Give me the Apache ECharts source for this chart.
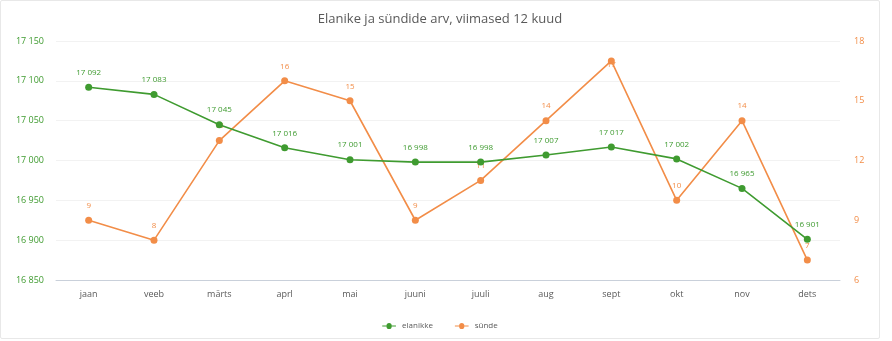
<!DOCTYPE html>
<html><head><meta charset="utf-8">
<script src="https://cdn.jsdelivr.net/npm/echarts@6/dist/echarts.min.js"></script>
<style>
html,body{margin:0;padding:0;background:#fff;}
#box{position:absolute;left:0;top:0;width:878px;height:337px;border:1px solid #e8e8e8;border-radius:2px;}
#c{position:absolute;left:0;top:0;width:878px;height:337px;}
</style></head>
<body><div id="box"><div id="c"></div></div>
<script>
const title = 'Elanike ja sündide arv, viimased 12 kuud';
const categories = ['jaan','veeb','märts','aprl','mai','juuni','juuli','aug','sept','okt','nov','dets'];
const residents = [17092,17083,17045,17016,17001,16998,16998,17007,17017,17002,16965,16901];
const births = [9,8,13,16,15,9,11,14,17,10,14,7];
const seriesNames = ['elanikke','sünde'];
const green = '#3f9b30', orange = '#f28d48';
const fmt = v => String(v).replace(/\B(?=(\d{3})+(?!\d))/g, ' ');
const font = 'Open Sans';
// the peak label sits partly under its point, as in the reference
const birthsData = births.map((v, i) => i === 8 ? {value: v, label: {show: true, position: 'bottom', distance: -4}} : v);
const chart = echarts.init(document.getElementById('c'));
chart.setOption({
  animation:false,
  textStyle:{fontFamily:font},
  title:{text:title,left:'center',top:7,textStyle:{fontFamily:font,fontSize:13,fontWeight:'normal',color:'#595959'}},
  legend:{bottom:3,left:'center',itemWidth:16,itemHeight:6,itemGap:22,icon:'path://M0,2.5L5,2.5A3,3 0 1 1 11,2.5L16,2.5L16,3.5L11,3.5A3,3 0 1 1 5,3.5L0,3.5Z',
    textStyle:{fontSize:8,color:'#595959',fontFamily:font},data:seriesNames},
  grid:{left:55,right:39,top:40,bottom:58,containLabel:false},
  xAxis:{type:'category',data:categories,boundaryGap:true,
    axisLine:{lineStyle:{color:'#c9d0da'}},axisTick:{show:false},
    axisLabel:{color:'#595959',fontSize:9,margin:10}},
  yAxis:[
    {type:'value',min:16850,max:17150,interval:50,
     axisLabel:{color:green,fontSize:9,formatter:fmt,margin:12},
     splitLine:{lineStyle:{color:'#f2f2f2'}},axisLine:{show:false},axisTick:{show:false}},
    {type:'value',min:6,max:18,interval:3,
     axisLabel:{color:orange,fontSize:9,margin:14},
     splitLine:{show:false},axisLine:{show:false},axisTick:{show:false}}
  ],
  series:[
    {name:seriesNames[0],type:'line',yAxisIndex:0,data:residents,symbol:'circle',symbolSize:7,
     itemStyle:{color:green},lineStyle:{color:green,width:1.6},
     label:{show:true,position:'top',distance:7,color:green,fontSize:8,formatter:p=>fmt(p.value)},z:3},
    {name:seriesNames[1],type:'line',yAxisIndex:1,data:birthsData,symbol:'circle',symbolSize:7,
     itemStyle:{color:orange},lineStyle:{color:orange,width:1.6},
     label:{show:true,position:'top',distance:7,color:orange,fontSize:8},z:2}
  ]
});
</script></body></html>
